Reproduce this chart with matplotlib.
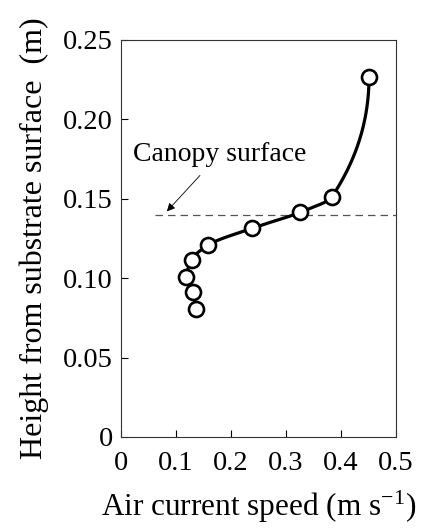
import numpy as np
import matplotlib
matplotlib.use("Agg")
import matplotlib.pyplot as plt

plt.rcParams['font.family'] = ['Liberation Serif', 'DejaVu Serif']
plt.rcParams['mathtext.fontset'] = 'stix'

speed = [0.137, 0.130, 0.119, 0.1285, 0.159, 0.238, 0.326, 0.383, 0.451]
height = [0.0804, 0.0915, 0.1006, 0.1115, 0.121, 0.1314, 0.1415, 0.151, 0.227]
canopy_height = 0.1398
xticks = [0, 0.1, 0.2, 0.3, 0.4, 0.5]
xticklabels = ['0', '0.1', '0.2', '0.3', '0.4', '0.5']
yticks = [0, 0.05, 0.10, 0.15, 0.20, 0.25]
yticklabels = ['0', '0.05', '0.10', '0.15', '0.20', '0.25']


def pchip(xk, yk, xs):
    xk = np.asarray(xk, float); yk = np.asarray(yk, float)
    n = len(xk)
    h = np.diff(xk)
    delta = np.diff(yk) / h
    d = np.zeros(n)
    for k in range(1, n - 1):
        if delta[k - 1] * delta[k] <= 0:
            d[k] = 0
        else:
            w1 = 2 * h[k] + h[k - 1]
            w2 = h[k] + 2 * h[k - 1]
            d[k] = (w1 + w2) / (w1 / delta[k - 1] + w2 / delta[k])

    def endpoint(h0, h1, d0, d1):
        dd = ((2 * h0 + h1) * d0 - h0 * d1) / (h0 + h1)
        if np.sign(dd) != np.sign(d0):
            dd = 0
        elif np.sign(d0) != np.sign(d1) and abs(dd) > abs(3 * d0):
            dd = 3 * d0
        return dd
    d[0] = endpoint(h[0], h[1], delta[0], delta[1])
    d[-1] = endpoint(h[-1], h[-2], delta[-1], delta[-2])
    out = np.empty_like(xs)
    for j, x in enumerate(xs):
        i = min(max(np.searchsorted(xk, x) - 1, 0), n - 2)
        t = (x - xk[i]) / h[i]
        h00 = 2 * t**3 - 3 * t**2 + 1
        h10 = t**3 - 2 * t**2 + t
        h01 = -2 * t**3 + 3 * t**2
        h11 = t**3 - t**2
        out[j] = h00 * yk[i] + h10 * h[i] * d[i] + h01 * yk[i + 1] + h11 * h[i] * d[i + 1]
    return out


fig = plt.figure(figsize=(4.32, 5.28), dpi=100)
ax = fig.add_axes([121 / 432, 1 - 437 / 528, 275 / 432, 397 / 528])

ys = np.linspace(height[0], height[-1], 400)
xs = pchip(height, speed, ys)
ax.plot(xs, ys, color='black', lw=2.3, zorder=3)
ax.plot(speed, height, linestyle='none', marker='o', ms=10.8, mfc='white',
        mec='black', mew=1.9, zorder=4)

ax.plot([0.062, 0.5], [canopy_height, canopy_height], color='#555555',
        lw=0.9, dashes=(6, 4), zorder=2)
ax.annotate('', xy=(0.08, canopy_height + 0.001), xytext=(0.147, 0.166),
            arrowprops=dict(arrowstyle='-|>', color='black', lw=0.6,
                            mutation_scale=12))
ax.text(0.022, 0.178, 'Canopy surface', fontsize=20, ha='left', va='center')

ax.set_xlim(0, 0.5)
ax.set_ylim(0, 0.25)
ax.set_xticks(xticks)
ax.set_xticklabels(xticklabels)
ax.set_yticks(yticks)
ax.set_yticklabels(yticklabels)
ax.tick_params(direction='in', length=5, width=0.8, labelsize=20.5)
ax.tick_params(axis='x', pad=10)
ax.tick_params(axis='y', pad=6)
for s in ax.spines.values():
    s.set_linewidth(0.8)
    s.set_color('#333333')
ax.set_xlabel('Air current speed (m s$^{\\mathregular{-1}}$)', fontsize=22.5, labelpad=9)
ax.set_ylabel('Height from substrate surface  (m)', fontsize=23, labelpad=10)

fig.savefig('out.png', dpi=100)
